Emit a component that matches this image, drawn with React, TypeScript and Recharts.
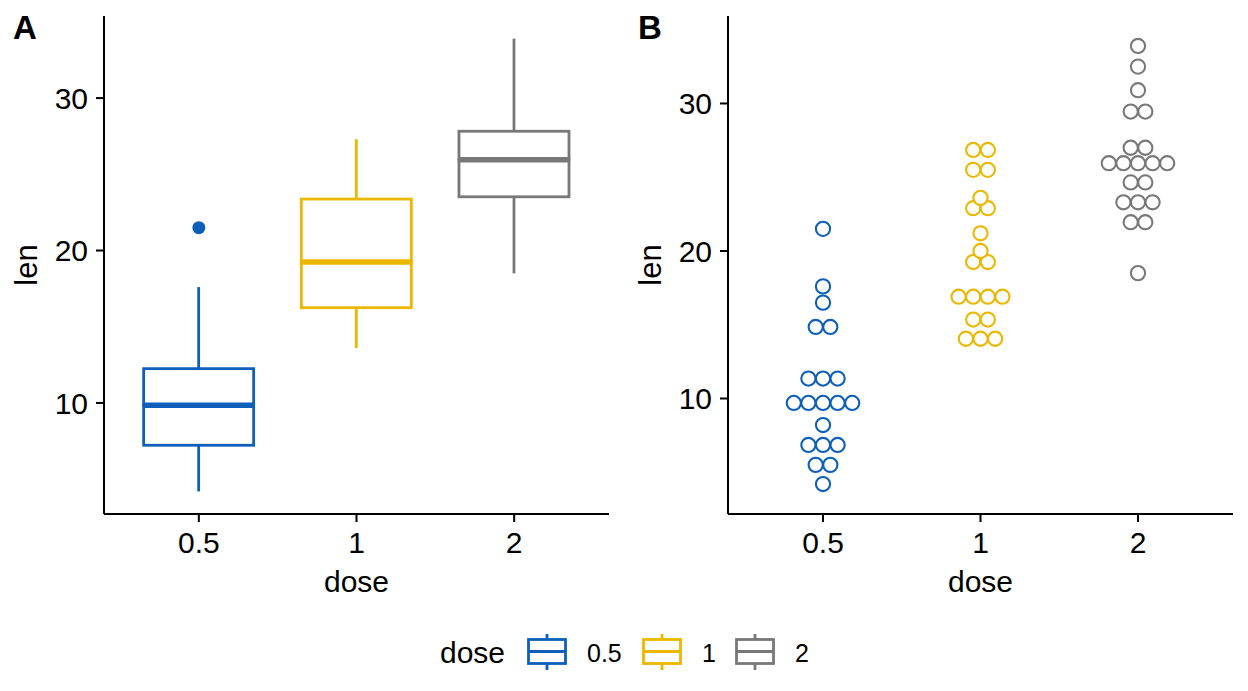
import React from 'react';
import { ComposedChart, Bar, Scatter, XAxis, YAxis } from 'recharts';

// ToothGrowth: tooth length by vitamin C dose
const doses = ['0.5', '1', '2'];
const doseColors = ['#0E5FBA', '#EBB700', '#787878'];

// Box plot summary per dose (Tukey hinges, 1.5 IQR whiskers)
const boxMin = [4.2, 13.6, 18.5];
const boxQ1 = [7.225, 16.25, 23.525];
const boxMedian = [9.85, 19.25, 25.95];
const boxQ3 = [12.25, 23.375, 27.825];
const boxMax = [17.6, 27.3, 33.9];
const outliers = [21.5, null, null];

// Dot plot bins (bin centre, number of dots) per dose
const binWidth = 0.99;
const binCenters05 = [4.2, 5.5, 6.85, 8.2, 9.7, 11.35, 14.85, 16.5, 17.6, 21.5];
const binCounts05 = [1, 2, 3, 1, 5, 3, 2, 1, 1, 1];
const binCenters1 = [14.05, 15.35, 16.9, 19.25, 20, 21.2, 22.9, 23.6, 25.5, 26.85];
const binCounts1 = [3, 2, 4, 2, 1, 1, 2, 1, 2, 2];
const binCenters2 = [18.5, 21.95, 23.3, 24.65, 25.95, 27, 29.45, 30.9, 32.5, 33.9];
const binCounts2 = [1, 2, 3, 2, 5, 2, 2, 1, 1, 1];

const yTicks = [10, 20, 30];
const yDomainA: [number, number] = [2.715, 35.385];
const yDomainB: [number, number] = [2.17, 35.93];

// layout
const FONT = '"Liberation Sans", Arial, Helvetica, sans-serif';
const CHART_W = 620;
const CHART_H = 600;
const MARGIN = { top: 16, right: 11, bottom: 0, left: 0 };
const Y_AXIS_W = 104;
const X_AXIS_H = 86;
const PLOT_H = CHART_H - MARGIN.top - MARGIN.bottom - X_AXIS_H;
const PLOT_W = CHART_W - MARGIN.left - MARGIN.right - Y_AXIS_W;
const LINE_W = 2.8;

const boxRows = doses.map((dose, i) => ({
  dose,
  base: boxMin[i],
  lowWhisker: boxQ1[i] - boxMin[i],
  lowBox: boxMedian[i] - boxQ1[i],
  highBox: boxQ3[i] - boxMedian[i],
  highWhisker: boxMax[i] - boxQ3[i],
  outlier: outliers[i],
}));

const toBins = (dose: string, centers: number[], counts: number[]) =>
  centers.map((len, i) => ({ dose, len, count: counts[i] }));

const dotSeries = [
  toBins('0.5', binCenters05, binCounts05),
  toBins('1', binCenters1, binCounts1),
  toBins('2', binCenters2, binCounts2),
];

const Empty = () => <g />;

const Whisker = (props: any) => {
  const { x, y, width, height, index } = props;
  const cx = x + width / 2;
  return <line x1={cx} x2={cx} y1={y} y2={y + height} stroke={doseColors[index]} strokeWidth={LINE_W} />;
};

const LowerBox = (props: any) => {
  const { x, y, width, height, index } = props;
  return <rect x={x} y={y} width={width} height={height} fill="#fff" stroke={doseColors[index]} strokeWidth={LINE_W} />;
};

const UpperBox = (props: any) => {
  const { x, y, width, height, index } = props;
  return (
    <g>
      <rect x={x} y={y} width={width} height={height} fill="#fff" stroke={doseColors[index]} strokeWidth={LINE_W} />
      <line x1={x} x2={x + width} y1={y + height} y2={y + height} stroke={doseColors[index]} strokeWidth={5.5} />
    </g>
  );
};

const OutlierDot = (props: any) => {
  const { cx, cy, payload, index } = props;
  if (payload == null || payload.outlier == null || !isFinite(cy)) return <g />;
  return <circle cx={cx} cy={cy} r={6.5} fill={doseColors[index]} />;
};

const dotDiameter = binWidth * (PLOT_H / (yDomainB[1] - yDomainB[0]));

const DotStack = (props: any) => {
  const { cx, cy, payload, color } = props;
  if (!payload || !isFinite(cx) || !isFinite(cy)) return <g />;
  const n = payload.count;
  return (
    <g>
      {Array.from({ length: n }, (_, j) => (
        <circle
          key={j}
          cx={cx + (j - (n - 1) / 2) * dotDiameter}
          cy={cy}
          r={dotDiameter / 2 - 0.2}
          fill="#fff"
          stroke={color}
          strokeWidth={2.1}
        />
      ))}
    </g>
  );
};

const axisStyle = {
  tickSize: 8,
  axisLine: { stroke: '#000', strokeWidth: 2 },
  tickLine: { stroke: '#000', strokeWidth: 2 },
  tick: { fontSize: 30, fill: '#000', fontFamily: FONT },
};

const xTitle = () => (
  <text x={MARGIN.left + Y_AXIS_W + PLOT_W / 2} y={592} textAnchor="middle" fontSize={30} fill="#000" fontFamily={FONT}>
    dose
  </text>
);

const yTitle = () => (
  <text x={37} y={MARGIN.top + PLOT_H / 2} transform={`rotate(-90, 37, ${MARGIN.top + PLOT_H / 2})`} textAnchor="middle" fontSize={31} fill="#000" fontFamily={FONT}>
    len
  </text>
);

function BoxPanel() {
  return (
    <ComposedChart width={CHART_W} height={CHART_H} data={boxRows} margin={MARGIN} barCategoryGap="15%">
      <XAxis dataKey="dose" type="category" padding={{ left: 16, right: 16 }} height={X_AXIS_H} tickMargin={10} {...axisStyle} label={xTitle} />
      <YAxis type="number" domain={yDomainA} allowDataOverflow ticks={yTicks} width={Y_AXIS_W} tickMargin={8} {...axisStyle} label={yTitle} />
      <Bar dataKey="base" stackId="box" shape={Empty} isAnimationActive={false} />
      <Bar dataKey="lowWhisker" stackId="box" shape={Whisker} isAnimationActive={false} />
      <Bar dataKey="lowBox" stackId="box" shape={LowerBox} isAnimationActive={false} />
      <Bar dataKey="highBox" stackId="box" shape={UpperBox} isAnimationActive={false} />
      <Bar dataKey="highWhisker" stackId="box" shape={Whisker} isAnimationActive={false} />
      <Scatter dataKey="outlier" shape={OutlierDot} isAnimationActive={false} />
    </ComposedChart>
  );
}

function DotPanel() {
  // no bars here, so the category axis is a point scale: pad it to the same category centres as panel A
  return (
    <ComposedChart width={CHART_W} height={CHART_H} data={doses.map((dose) => ({ dose }))} margin={MARGIN}>
      <XAxis dataKey="dose" type="category" allowDuplicatedCategory={false} padding={{ left: 95, right: 95 }} height={X_AXIS_H} tickMargin={10} {...axisStyle} label={xTitle} />
      <YAxis type="number" dataKey="len" domain={yDomainB} allowDataOverflow ticks={yTicks} width={Y_AXIS_W} tickMargin={8} {...axisStyle} label={yTitle} />
      {dotSeries.map((bins, i) => (
        <Scatter
          key={doses[i]}
          data={bins}
          dataKey="len"
          isAnimationActive={false}
          shape={(p: any) => <DotStack {...p} color={doseColors[i]} />}
        />
      ))}
    </ComposedChart>
  );
}

// legend keys: small box-plot glyphs
const legendKeys = [
  { x: 528.5, labelX: 587 },
  { x: 643.5, labelX: 702 },
  { x: 736.5, labelX: 795 },
];

function LegendOverlay() {
  return (
    <svg width={1248} height={691} style={{ position: 'absolute', left: 0, top: 0, pointerEvents: 'none' }}>
      <text x={13} y={39} fontSize={33} fontWeight="bold" fontFamily={FONT} fill="#000">A</text>
      <text x={638} y={39} fontSize={33} fontWeight="bold" fontFamily={FONT} fill="#000">B</text>
      <text x={440} y={663} fontSize={30} fontFamily={FONT} fill="#000">dose</text>
      {legendKeys.map((k, i) => (
        <g key={doses[i]}>
          <line x1={k.x + 18.5} x2={k.x + 18.5} y1={634} y2={670} stroke={doseColors[i]} strokeWidth={LINE_W} />
          <rect x={k.x} y={639.5} width={37} height={24} fill="#fff" stroke={doseColors[i]} strokeWidth={LINE_W} />
          <line x1={k.x} x2={k.x + 37} y1={651.5} y2={651.5} stroke={doseColors[i]} strokeWidth={LINE_W} />
          <text x={k.labelX} y={662} fontSize={25} fontFamily={FONT} fill="#000">{doses[i]}</text>
        </g>
      ))}
    </svg>
  );
}

export default function App() {
  return (
    <div style={{ position: 'absolute', left: 0, top: 0, width: 1248, height: 691, background: '#fff', fontFamily: FONT }}>
      <div style={{ position: 'absolute', left: 0, top: 0 }}>
        <BoxPanel />
      </div>
      <div style={{ position: 'absolute', left: 624, top: 0 }}>
        <DotPanel />
      </div>
      <LegendOverlay />
    </div>
  );
}
